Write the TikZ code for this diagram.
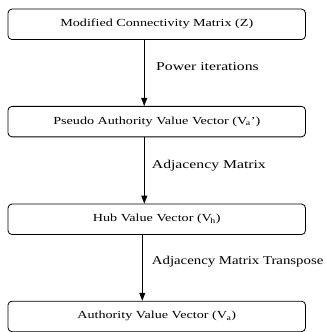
\documentclass[tikz,border=0pt]{standalone}
\usepackage{fontspec}
\setmainfont[FakeStretch=1.31]{Liberation Serif}
\newfontfamily\narrowserif[FakeStretch=1.235]{Liberation Serif}
\usetikzlibrary{arrows.meta}
\tikzset{
  box/.style={draw=black, line width=0.8pt, rounded corners=4pt, minimum width=297.5pt, minimum height=30.5pt, inner sep=0pt, font=\fontsize{10.8}{13}\selectfont},
  arr/.style={draw=black, line width=0.9pt, -{Triangle[length=8pt,width=6pt]}},
  lbl/.style={anchor=base west, inner sep=0pt, font=\fontsize{12}{14}\selectfont}
}
\begin{document}
\begin{tikzpicture}[x=1pt,y=-1pt]
\useasboundingbox (0,0) rectangle (326,332);
\node[box] (b1) at (156.75,24.3) {Modified Connectivity Matrix (Z)};
\node[box] (b2) at (156.75,121.6) {Pseudo Authority Value Vector (V\kern-1.5pt\textsubscript{a}')};
\node[box] (b3) at (156.75,219.3) {Hub Value Vector (V\kern-1.5pt\textsubscript{h})};
\node[box] (b4) at (156.75,316.4) {Authority Value Vector (V\kern-0.5pt\textsubscript{a})};
\coordinate (a1) at (144.2,0);
\coordinate (a2) at (144.3,0);
\coordinate (a3) at (142.3,0);
\draw[arr] (b1.south -| a1) -- (b2.north -| a1);
\draw[arr] (b2.south -| a2) -- (b3.north -| a2);
\draw[arr] (b3.south -| a3) -- (b4.north -| a3);
\node[lbl] (l1) at (156,70.7) {Power iterations};
\node[lbl] (l2) at (151.7,168) {Adjacency Matrix};
\node[lbl, font=\narrowserif\fontsize{12}{14}\selectfont] (l3) at (151.7,264) {Adjacency Matrix Transpose};
\end{tikzpicture}
\end{document}
